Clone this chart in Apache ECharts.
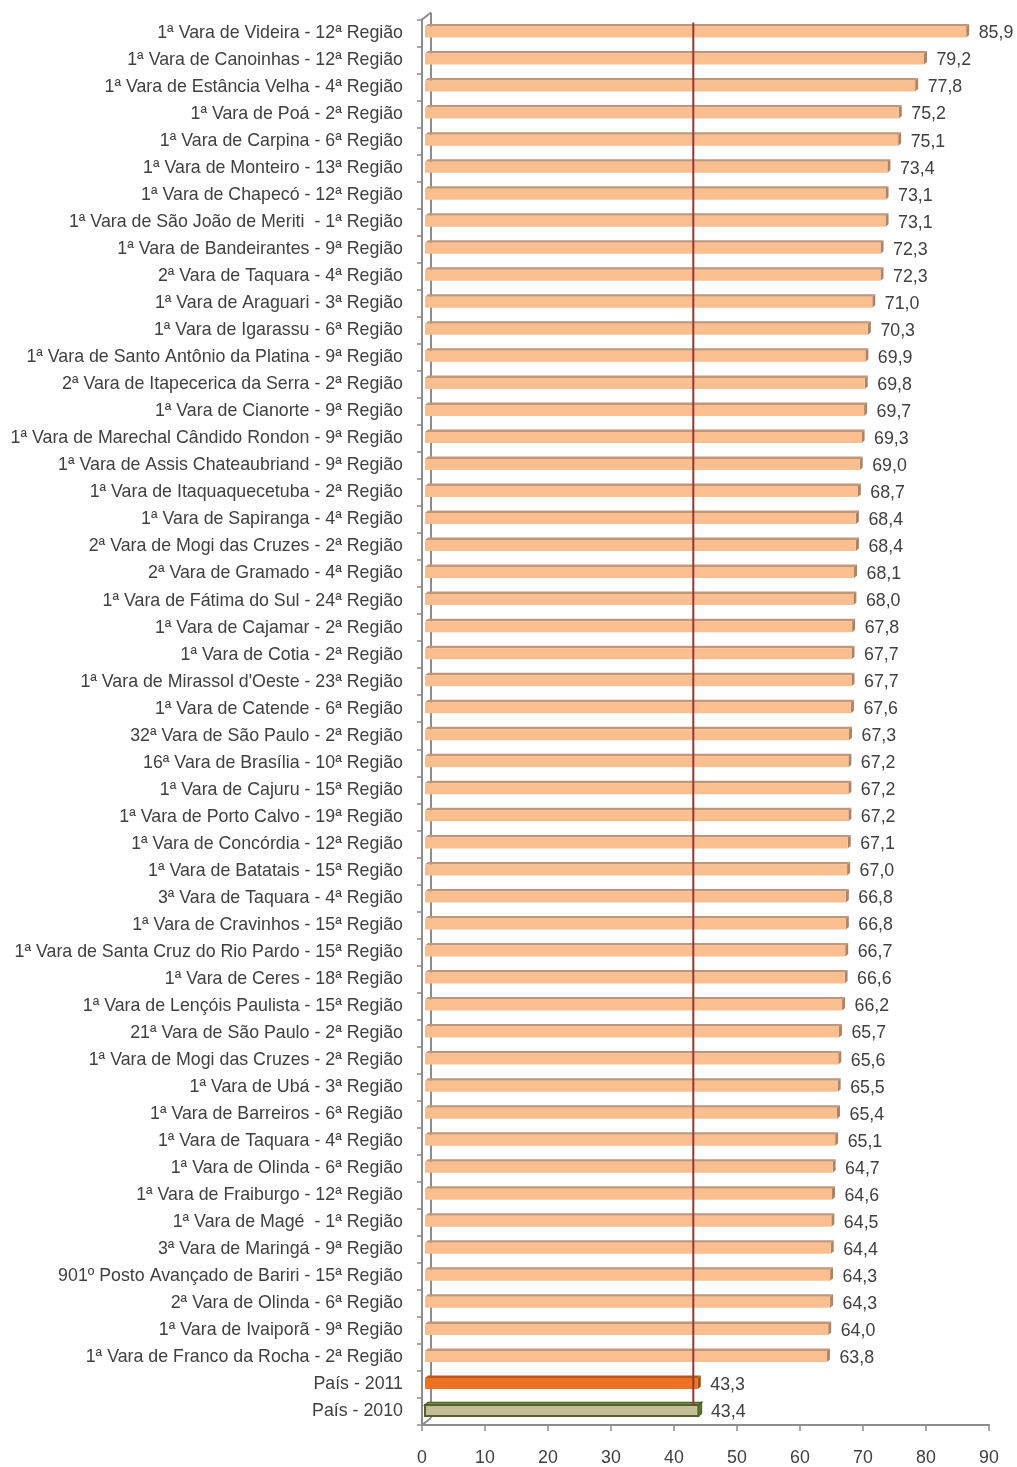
<!DOCTYPE html>
<html>
<head>
<meta charset="utf-8">
<script src="https://cdn.jsdelivr.net/npm/echarts@6/dist/echarts.min.js"></script>
<style>
  html, body { margin: 0; padding: 0; background: #ffffff; }
  #chart { width: 1017px; height: 1467px; }
</style>
</head>
<body>
<div id="chart"></div>
<script>
// Unidades com maior taxa, mais as médias do país
const categories = [
  '1ª Vara de Videira - 12ª Região',
  '1ª Vara de Canoinhas - 12ª Região',
  '1ª Vara de Estância Velha - 4ª Região',
  '1ª Vara de Poá - 2ª Região',
  '1ª Vara de Carpina - 6ª Região',
  '1ª Vara de Monteiro - 13ª Região',
  '1ª Vara de Chapecó - 12ª Região',
  '1ª Vara de São João de Meriti  - 1ª Região',
  '1ª Vara de Bandeirantes - 9ª Região',
  '2ª Vara de Taquara - 4ª Região',
  '1ª Vara de Araguari - 3ª Região',
  '1ª Vara de Igarassu - 6ª Região',
  '1ª Vara de Santo Antônio da Platina - 9ª Região',
  '2ª Vara de Itapecerica da Serra - 2ª Região',
  '1ª Vara de Cianorte - 9ª Região',
  '1ª Vara de Marechal Cândido Rondon - 9ª Região',
  '1ª Vara de Assis Chateaubriand - 9ª Região',
  '1ª Vara de Itaquaquecetuba - 2ª Região',
  '1ª Vara de Sapiranga - 4ª Região',
  '2ª Vara de Mogi das Cruzes - 2ª Região',
  '2ª Vara de Gramado - 4ª Região',
  '1ª Vara de Fátima do Sul - 24ª Região',
  '1ª Vara de Cajamar - 2ª Região',
  '1ª Vara de Cotia - 2ª Região',
  "1ª Vara de Mirassol d'Oeste - 23ª Região",
  '1ª Vara de Catende - 6ª Região',
  '32ª Vara de São Paulo - 2ª Região',
  '16ª Vara de Brasília - 10ª Região',
  '1ª Vara de Cajuru - 15ª Região',
  '1ª Vara de Porto Calvo - 19ª Região',
  '1ª Vara de Concórdia - 12ª Região',
  '1ª Vara de Batatais - 15ª Região',
  '3ª Vara de Taquara - 4ª Região',
  '1ª Vara de Cravinhos - 15ª Região',
  '1ª Vara de Santa Cruz do Rio Pardo - 15ª Região',
  '1ª Vara de Ceres - 18ª Região',
  '1ª Vara de Lençóis Paulista - 15ª Região',
  '21ª Vara de São Paulo - 2ª Região',
  '1ª Vara de Mogi das Cruzes - 2ª Região',
  '1ª Vara de Ubá - 3ª Região',
  '1ª Vara de Barreiros - 6ª Região',
  '1ª Vara de Taquara - 4ª Região',
  '1ª Vara de Olinda - 6ª Região',
  '1ª Vara de Fraiburgo - 12ª Região',
  '1ª Vara de Magé  - 1ª Região',
  '3ª Vara de Maringá - 9ª Região',
  '901º Posto Avançado de Bariri - 15ª Região',
  '2ª Vara de Olinda - 6ª Região',
  '1ª Vara de Ivaiporã - 9ª Região',
  '1ª Vara de Franco da Rocha - 2ª Região',
  'País - 2011',
  'País - 2010'
];

const values = [
  85.9, 79.2, 77.8, 75.2, 75.1, 73.4, 73.1, 73.1, 72.3, 72.3,
  71.0, 70.3, 69.9, 69.8, 69.7, 69.3, 69.0, 68.7, 68.4, 68.4,
  68.1, 68.0, 67.8, 67.7, 67.7, 67.6, 67.3, 67.2, 67.2, 67.2,
  67.1, 67.0, 66.8, 66.8, 66.7, 66.6, 66.2, 65.7, 65.6, 65.5,
  65.4, 65.1, 64.7, 64.6, 64.5, 64.4, 64.3, 64.3, 64.0, 63.8,
  43.3, 43.4
];

// Linha de referência: média do país em 2011
const referenceValue = 43.3;

const xTicks = [0, 10, 20, 30, 40, 50, 60, 70, 80, 90];

const styles = {
  vara:  { front: '#FBBE8E', top: '#BF977A', side: '#AE8467', stroke: null },
  p2011: { front: '#EB7125', top: '#B8581A', side: '#A44F16', stroke: null },
  p2010: { front: '#C4BD97', top: '#8E9A5E', side: '#6E7F3F', stroke: '#4F6228' }
};

function styleFor(name) {
  if (name === 'País - 2011') return styles.p2011;
  if (name === 'País - 2010') return styles.p2010;
  return styles.vara;
}

const fmt = v => v.toFixed(1).replace('.', ',');
const FONT_FAMILY = '"Liberation Sans", Arial, sans-serif';
const FONT_SIZE = 17.8;

// Barras com efeito de profundidade (face frontal, topo e lateral)
function renderBar(params, api) {
  const v = api.value(0);
  const idx = api.value(1);
  const st = styleFor(categories[idx]);
  const p0 = api.coord([0, idx]);
  const p1 = api.coord([v, idx]);
  const shift = 3;
  const dd = 3, ddy = 2.5;
  const x0 = p0[0] + shift;
  const x1 = p1[0] + shift;
  const ft = p0[1] - 6.5;
  const fb = p0[1] + 4.5;
  const lw = st.stroke ? 1.5 : 0;
  return {
    type: 'group',
    children: [
      {
        type: 'polygon',
        shape: { points: [[x0, ft], [x1, ft], [x1 + dd, ft - ddy], [x0 + dd, ft - ddy]] },
        style: { fill: st.top, stroke: st.stroke, lineWidth: lw }
      },
      {
        type: 'polygon',
        shape: { points: [[x1, ft], [x1 + dd, ft - ddy], [x1 + dd, fb - ddy], [x1, fb]] },
        style: { fill: st.side, stroke: st.stroke, lineWidth: lw }
      },
      {
        type: 'rect',
        shape: { x: x0, y: ft, width: x1 - x0, height: fb - ft },
        style: { fill: st.front, stroke: st.stroke, lineWidth: st.stroke ? 2 : 0 }
      },
      {
        type: 'text',
        style: {
          x: x1 + dd + 9.5, y: p0[1] + 0.5,
          text: fmt(v),
          fill: '#404040',
          font: FONT_SIZE + 'px ' + FONT_FAMILY,
          textAlign: 'left', textVerticalAlign: 'middle'
        }
      }
    ]
  };
}

function renderRefLine(params, api) {
  const v = api.value(0);
  const band = api.size([0, 1])[1];
  const a = api.coord([v, 0]);
  const b = api.coord([v, categories.length - 1]);
  return {
    type: 'line',
    shape: { x1: a[0] - 1.5, y1: a[1] - band / 2 + 3, x2: b[0] - 1.5, y2: b[1] - 6 },
    style: { stroke: '#953735', lineWidth: 2 },
    z2: 10
  };
}

const chart = echarts.init(document.getElementById('chart'), null, { renderer: 'canvas' });
const axisGrey = '#8C8C8C';
const labelFont = { color: '#404040', fontSize: FONT_SIZE, fontFamily: FONT_FAMILY };

chart.setOption({
  animation: false,
  backgroundColor: '#ffffff',
  grid: { left: 422, right: 28, top: 19.5, height: 1407, containLabel: false },
  xAxis: {
    type: 'value',
    min: xTicks[0],
    max: xTicks[xTicks.length - 1],
    interval: xTicks[1] - xTicks[0],
    splitLine: { show: false },
    axisLine: { show: true, lineStyle: { color: axisGrey, width: 2 } },
    axisTick: { show: true, length: 6, lineStyle: { color: axisGrey, width: 1.5 } },
    axisLabel: Object.assign({ margin: 24 }, labelFont)
  },
  yAxis: {
    type: 'category',
    inverse: true,
    data: categories,
    axisLine: { show: true, lineStyle: { color: axisGrey, width: 2 } },
    axisTick: { show: true, length: 5, interval: 0, lineStyle: { color: axisGrey, width: 1.5 } },
    axisLabel: Object.assign({ margin: 19, interval: 0, padding: [5, 0, 0, 0] }, labelFont)
  },
  series: [
    {
      type: 'custom',
      renderItem: renderBar,
      encode: { x: 0, y: 1 },
      data: values.map((v, i) => [v, i]),
      z: 2
    },
    {
      type: 'custom',
      renderItem: renderRefLine,
      encode: { x: 0 },
      data: [[referenceValue]],
      z: 5
    }
  ]
});

// Parede lateral em perspectiva do eixo de categorias
const rect = chart.getModel().getComponent('grid').coordinateSystem.getRect();
const wx = 9, wy = 7;
chart.setOption({
  graphic: [
    { type: 'line', shape: { x1: rect.x, y1: rect.y, x2: rect.x + wx, y2: rect.y - wy },
      style: { stroke: axisGrey, lineWidth: 2 }, z: 1 },
    { type: 'line', shape: { x1: rect.x + wx, y1: rect.y - wy, x2: rect.x + wx, y2: rect.y + rect.height - wy },
      style: { stroke: axisGrey, lineWidth: 2 }, z: 1 },
    { type: 'line', shape: { x1: rect.x, y1: rect.y + rect.height, x2: rect.x + wx, y2: rect.y + rect.height - wy },
      style: { stroke: axisGrey, lineWidth: 2 }, z: 1 }
  ]
});
</script>
</body>
</html>
